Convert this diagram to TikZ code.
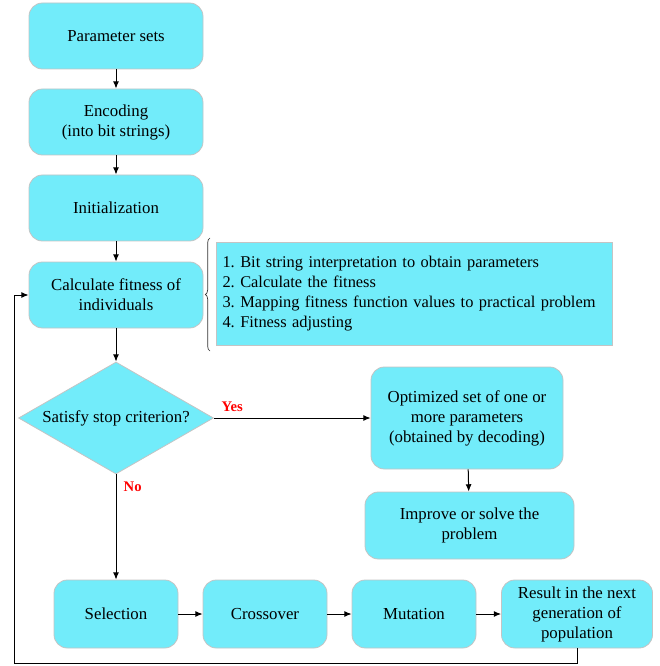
\documentclass[tikz,border=0pt]{standalone}
\usepackage{fontspec}
\setmainfont{Liberation Serif}
\usetikzlibrary{shapes.geometric,arrows.meta,decorations.pathreplacing}
\definecolor{boxfill}{HTML}{72ECFA}
\definecolor{boxline}{HTML}{C4C4C4}
\begin{document}
\begin{tikzpicture}[x=0.75pt,y=-0.75pt,
  font=\fontsize{12.6}{15}\selectfont,
  proc/.style={draw=boxline,line width=0.6pt,fill=boxfill,rounded corners=10pt,align=center,inner sep=2pt},
  decision/.style={diamond,aspect=1.74,draw=boxline,line width=0.6pt,fill=boxfill,align=center,inner sep=0pt,minimum width=146.25pt,minimum height=84pt},
  infobox/.style={draw=boxline,line width=0.6pt,fill=boxfill,align=left,text width=288pt,inner xsep=4.5pt,minimum height=77.25pt,font=\fontsize{12.3}{15.2}\selectfont},
  arr/.style={line width=0.75pt,-{Latex[length=5.5pt,width=4.5pt]}},
  lbl/.style={text=red,font=\fontsize{11}{12}\selectfont\bfseries},
]
\useasboundingbox (0,0) rectangle (659,666);

\node[proc,minimum width=130.5pt,minimum height=49.5pt] (ps) at (116,36) {Parameter sets};
\node[proc,minimum width=130.5pt,minimum height=49.5pt] (enc) at (116,122) {Encoding\\(into bit strings)};
\node[proc,minimum width=130.5pt,minimum height=49.5pt] (init) at (116,208) {Initialization};
\node[proc,minimum width=130.5pt,minimum height=49.5pt] (calc) at (116,295) {Calculate fitness of\\individuals};

\node[infobox] (info) at (414.5,293.5) {1.\ Bit string interpretation to obtain parameters\\
2.\ Calculate the fitness\\
3.\ Mapping fitness function values to practical problem\\
4.\ Fitness adjusting};
\draw[line width=0.5pt,black!80,decorate,decoration={brace,amplitude=3.5pt}] (210,351) -- (210,238);

\node[decision] (dec) at (116,418) {Satisfy stop criterion?};

\node[proc,minimum width=144pt,minimum height=76.5pt] (opt) at (467,418) {Optimized set of one or\\more parameters\\(obtained by decoding)};
\node[proc,minimum width=156.75pt,minimum height=50.25pt] (imp) at (469.5,525.5) {Improve or solve the\\problem};

\node[proc,minimum width=93pt,minimum height=51pt] (sel) at (116,614) {Selection};
\node[proc,minimum width=93pt,minimum height=51pt] (cro) at (265,614) {Crossover};
\node[proc,minimum width=93pt,minimum height=51pt] (mut) at (414,614) {Mutation};
\node[proc,minimum width=113.25pt,minimum height=51pt] (res) at (577,614) {Result in the next\\generation of\\population};

\draw[arr] (ps) -- (enc);
\draw[arr] (enc) -- (init);
\draw[arr] (init) -- (calc);
\draw[arr] (calc) -- (dec);
\draw[arr] (dec.east) -- (opt.west);
\draw[arr] (dec.south) -- (sel.north);
\draw[arr] (opt) -- (imp);
\draw[arr] (sel) -- (cro);
\draw[arr] (cro) -- (mut);
\draw[arr] (mut) -- (res);

\coordinate (fb1) at (577,663);
\coordinate (fb2) at (14,663);
\coordinate (fb3) at (14,295);
\draw[arr] (res.south) -- (fb1) -- (fb2) -- (fb3) -- (calc.west);

\node[lbl,anchor=west] (yes) at (217,407) {Yes};
\node[lbl,anchor=west] (no) at (119,487) {No};
\end{tikzpicture}
\end{document}
